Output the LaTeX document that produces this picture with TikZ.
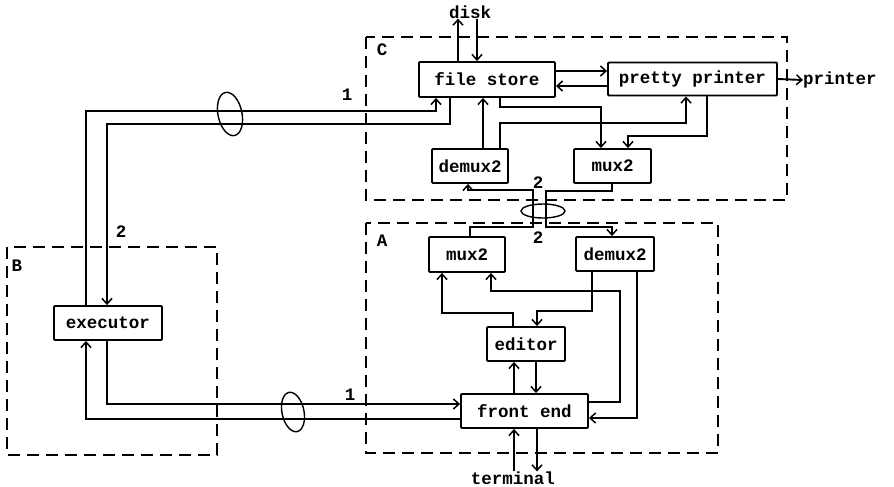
\documentclass[tikz,border=0pt]{standalone}
\usepackage{fontspec}
\newfontfamily\diagfont{Liberation Mono}
\usetikzlibrary{arrows.meta}
\begin{document}
\begin{tikzpicture}[x=1pt,y=-1pt,
  font=\diagfont\bfseries\fontsize{17.5}{19}\selectfont,
  proc/.style={draw,line width=1.9pt,inner sep=0pt,rounded corners=1pt},
  grp/.style={draw,line width=1.9pt,dash pattern=on 12pt off 7pt},
  conn/.style={line width=1.9pt,-{Straight Barb[length=5.5pt,width=10pt,line width=1.5pt]}},
  lbl/.style={inner sep=0pt},
  bundle/.style={draw,line width=1.4pt}]
\useasboundingbox (0,0) rectangle (894,487);
% groups
\draw[grp] (366,37) rectangle (787,200);
\draw[grp] (366,223) rectangle (718,453);
\draw[grp] (7,247) rectangle (217,455);
\node[lbl] (lC) at (382,50) {C};
\node[lbl] (lA) at (382,241) {A};
\node[lbl] (lB) at (17,266) {B};
% processes
\node[proc,minimum width=136pt,minimum height=35pt] (fs) at (487,79.5) {file store};
\node[proc,minimum width=169pt,minimum height=33pt] (pp) at (692.5,79) {pretty printer};
\node[proc,minimum width=76pt,minimum height=34pt] (demC) at (470,166) {demux2};
\node[proc,minimum width=77pt,minimum height=34pt] (muxC) at (612.5,166) {mux2};
\node[proc,minimum width=76pt,minimum height=35pt] (muxA) at (467,254.5) {mux2};
\node[proc,minimum width=78pt,minimum height=34pt] (demA) at (615,254) {demux2};
\node[proc,minimum width=78pt,minimum height=34pt] (ed) at (526,344) {editor};
\node[proc,minimum width=127pt,minimum height=34pt] (fe) at (524.5,411) {front end};
\node[proc,minimum width=108pt,minimum height=34pt] (ex) at (108,323) {executor};
% terminals
\node[lbl] (disk) at (470,12) {disk};
\node[lbl,anchor=west] (prn) at (803,80) {printer};
\node[lbl] (term) at (513,478) {terminal};
% bundle labels
\node[lbl] (n1a) at (347,95) {1};
\node[lbl] (n2a) at (121,232) {2};
\node[lbl] (n1b) at (350,395) {1};
\node[lbl] (n2c) at (538,183) {2};
\node[lbl] (n2d) at (538,238) {2};
% B <-> C
\draw[conn] (86,0 |- ex.north) -- (86,111) -- (436,111) -- (436,0 |- fs.south);
\draw[conn] (450,0 |- fs.south) -- (450,124) -- (107,124) -- (107,0 |- ex.north);
% B <-> A
\draw[conn] (107,0 |- ex.south) -- (107,404) -- (fe.west |- 0,404);
\draw[conn] (fe.west |- 0,419) -- (86,419) -- (86,0 |- ex.south);
% disk
\draw[conn] (458,0 |- fs.north) -- (458,0 |- disk.south);
\draw[conn] (477,0 |- disk.south) -- (477,0 |- fs.north);
% file store <-> pretty printer
\draw[conn] (fs.east |- 0,71) -- (pp.west |- 0,71);
\draw[conn] (pp.west |- 0,86) -- (fs.east |- 0,86);
\draw[conn] (pp.east) -- (prn.west);
% inside C
\draw[conn] (483,0 |- demC.north) -- (483,0 |- fs.south);
\draw[conn] (500,0 |- fs.south) -- (500,107) -- (601,107) -- (601,0 |- muxC.north);
\draw[conn] (500,0 |- demC.north) -- (500,123) -- (686,123) -- (686,0 |- pp.south);
\draw[conn] (707,0 |- pp.south) -- (707,136) -- (628,136) -- (628,0 |- muxC.north);
% C <-> A
\draw[conn] (470,0 |- muxA.north) -- (470,227) -- (533,227) -- (533,190) -- (468,190) -- (468,0 |- demC.south);
\draw[conn] (612,0 |- muxC.south) -- (612,191) -- (546,191) -- (546,227) -- (612,227) -- (612,0 |- demA.north);
% inside A
\draw[conn] (592,0 |- demA.south) -- (592,311) -- (537,311) -- (537,0 |- ed.north);
\draw[conn] (637,0 |- demA.south) -- (637,418) -- (fe.east |- 0,418);
\draw[conn] (fe.east |- 0,402) -- (620,402) -- (620,291) -- (491,291) -- (491,0 |- muxA.south);
\draw[conn] (513,0 |- ed.north) -- (513,313) -- (442,313) -- (442,0 |- muxA.south);
\draw[conn] (514,0 |- fe.north) -- (514,0 |- ed.south);
\draw[conn] (536,0 |- ed.south) -- (536,0 |- fe.north);
\draw[conn] (514,0 |- term.north) -- (514,0 |- fe.south);
\draw[conn] (537,0 |- fe.south) -- (537,0 |- term.north);
% bundle ellipses
\draw[bundle,rotate around={12:(230,114)}] (230,114) ellipse [x radius=12pt,y radius=22pt];
\draw[bundle,rotate around={12:(293,412)}] (293,412) ellipse [x radius=11pt,y radius=20pt];
\draw[bundle] (543,211) ellipse [x radius=22pt,y radius=7pt];
\end{tikzpicture}
\end{document}
